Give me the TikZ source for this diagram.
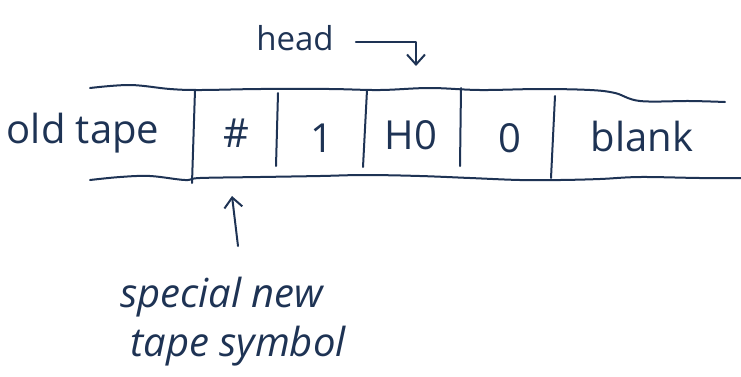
\documentclass[tikz,border=0pt]{standalone}
\usepackage{fontspec}
\setmainfont{Open Sans}
\usetikzlibrary{arrows.meta}
\definecolor{ink}{HTML}{1E3354}
\tikzset{
  pen/.style={draw=ink, line width=2pt, line cap=round, line join=round},
  tapetxt/.style={text=ink, font=\fontsize{40}{42}\selectfont, inner sep=0pt},
  headtxt/.style={text=ink, font=\fontsize{33}{35}\selectfont, inner sep=0pt},
  notetxt/.style={text=ink, font=\itshape\fontsize{40}{42}\selectfont, inner sep=0pt},
  pointer/.style={pen, -{Straight Barb[length=10pt, width=18pt, line width=2pt]}}
}
\begin{document}
\begin{tikzpicture}[x=1pt, y=-1pt]
\useasboundingbox (0,0) rectangle (741,376);

% tape edges
\draw[pen] plot[smooth, tension=0.6] coordinates
  {(90,88) (130,85) (170,89) (200,90) (260,89) (330,89) (380,90) (430,88)
   (480,90) (540,89) (590,90) (615,93) (640,101) (690,101) (725,102)};
\draw[pen] plot[smooth, tension=0.6] coordinates
  {(90,180) (120,177) (150,176) (185,180) (200,178) (260,177) (320,176)
   (365,175) (420,176) (470,178) (520,180) (560,180) (600,179) (640,177) (700,178) (741,178)};

% cell dividers
\draw[pen] (195,90) -- (192,183);
\draw[pen] (278,93) -- (276,166);
\draw[pen] (367,90) -- (363,167);
\draw[pen] (461,88) -- (460,166);
\draw[pen] (555,96) -- (551,178);

% cell contents
\node[tapetxt] (old)   at (83,133)  {old tape};
\node[tapetxt] (hash)  at (236,133) {\#};
\node[tapetxt] (one)   at (322,138) {1};
\node[tapetxt] (hzero) at (411,135) {H0};
\node[tapetxt] (zero)  at (510,138) {0};
\node[tapetxt] (blank) at (642,136) {blank};

% head marker
\node[headtxt] (head) at (295,38) {head};
\coordinate (hbend) at (416,42);
\coordinate (htip)  at (416,66);
\draw[pointer] (head.east) ++(22,4) -- (hbend) -- (htip);

% note on the new symbol
\node[notetxt] (note1) at (222,297) {special new};
\node[notetxt] (note2) at (238,346) {tape symbol};
\coordinate (ntail) at (238,246);
\coordinate (ntip)  at (232,196);
\draw[pointer] (ntail) -- (ntip);
\end{tikzpicture}
\end{document}
